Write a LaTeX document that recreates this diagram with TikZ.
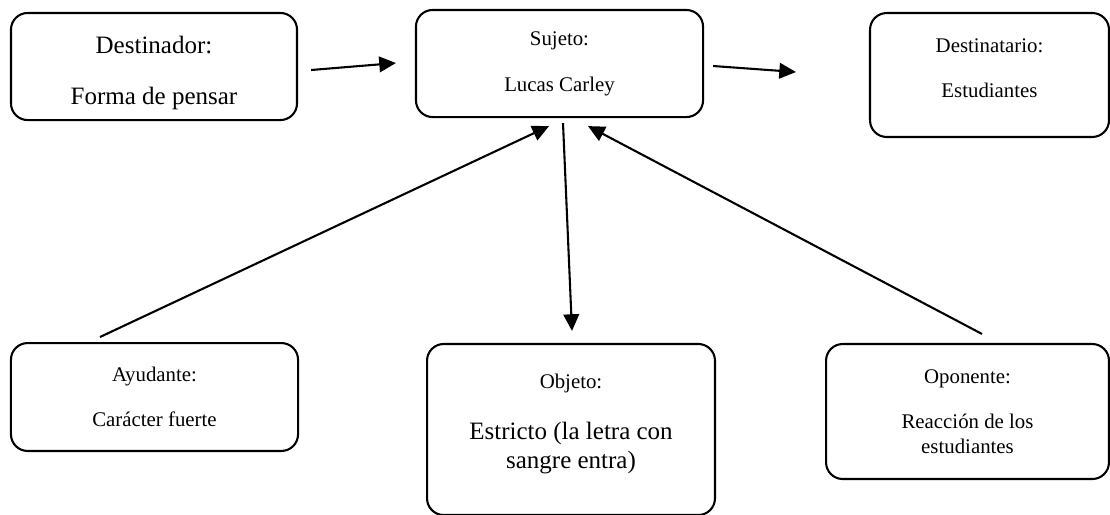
\documentclass[tikz,border=0pt]{standalone}
\usepackage{fontspec}
\setmainfont{Liberation Serif}
\usepackage{tikz}
\usetikzlibrary{calc}
\usetikzlibrary{arrows.meta}

\tikzset{
  caja/.style={draw, line width=1pt, rounded corners=8pt, align=center, inner sep=0pt},
  chico/.style={font=\fontsize{10}{12}\selectfont},
  grande/.style={font=\fontsize{12}{13.8}\selectfont},
  flecha/.style={-{Triangle[length=8pt,width=7.5pt]}, line width=1pt}
}

\begin{document}
\begin{tikzpicture}[x=0.48pt,y=-0.48pt]
            \useasboundingbox (0,0) rectangle (1110,514);
            % centros de las cajas
            \coordinate (D) at (154,66.5);
            \coordinate (S) at (559.5,63.5);
            \coordinate (R) at (989.5,75);
            \coordinate (A) at (154.5,397);
            \coordinate (O) at (571,429.5);
            \coordinate (P) at (967.5,411.5);
            % cajas
            \node[caja,grande,minimum width=137.3pt,minimum height=51.4pt] (dest) at (D) {\rule{0pt}{15pt}Destinador:\\[10.7pt]Forma de pensar};
            \node[caja,chico,minimum width=137.8pt,minimum height=51.4pt] (suj) at (S) {Sujeto:\\[10.2pt]Lucas Carley};
            \node[caja,chico,minimum width=114.7pt,minimum height=59.5pt] (destino) at (R) {Destinatario:\\[9.6pt]Estudiantes\\[-5pt]};
            \node[caja,chico,minimum width=137.8pt,minimum height=51.8pt] (ayu) at (A) {Ayudante:\\[9.6pt]Carácter fuerte};
            \node[caja,grande,minimum width=138.2pt,minimum height=82.1pt] (obj) at (O) {{\fontsize{10}{12}\selectfont Objeto:}\\[10.7pt]Estricto (la letra con\\sangre entra)\\[-6pt]};
            \node[caja,chico,minimum width=135.8pt,minimum height=64.8pt] (opo) at (P) {Oponente:\\[9.6pt]Reacción de los\\estudiantes};
            % flechas
            \draw[flecha] ($(dest.east)+(13,3.5)$) -- ($(suj.west)+(-19,-0.5)$);
            \draw[flecha] ($(suj.east)+(9,2.5)$) -- ($(destino.west)+(-73,-3)$);
            \draw[flecha] ($(suj.south)+(3.5,5)$) -- ($(obj.north)+(1,-12)$);
            \draw[flecha] ($(ayu.north)+(-54.5,-5)$) -- ($(suj.south)+(-10.5,8)$);
            \draw[flecha] ($(opo.north)+(14.5,-9)$) -- ($(suj.south)+(28.5,8)$);
\end{tikzpicture}
\end{document}
